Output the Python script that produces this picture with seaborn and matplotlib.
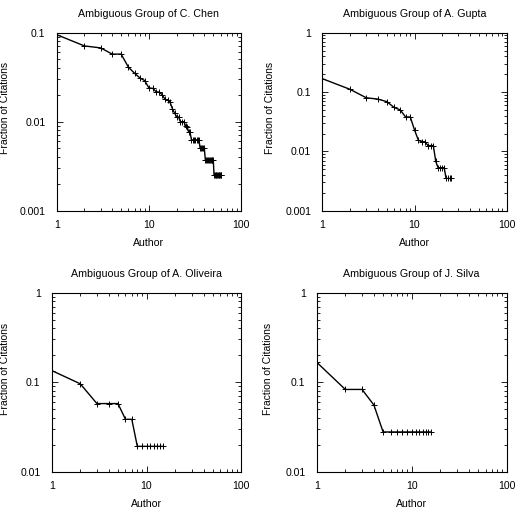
import numpy as np
import pandas as pd
import seaborn as sns
import matplotlib.pyplot as plt
from matplotlib.ticker import LogLocator, FixedLocator, FixedFormatter, NullFormatter

# fraction of citations per author (authors ranked)
chen = [0.095, 0.071, 0.0675, 0.0575, 0.0575, 0.041, 0.035, 0.031, 0.029, 0.024,
        0.0237, 0.0217, 0.0215, 0.020, 0.0178, 0.0175, 0.0165, 0.014, 0.0125, 0.0114,
        0.0113, 0.010, 0.010, 0.010, 0.009, 0.0088, 0.0077, 0.0076, 0.00625, 0.00625,
        0.00625, 0.00625, 0.00625, 0.00625, 0.00625, 0.005, 0.005, 0.005, 0.005, 0.005,
        0.00375, 0.00375, 0.00375, 0.00375, 0.00375, 0.00375, 0.00375, 0.00375, 0.00375, 0.00375,
        0.0025, 0.0025, 0.0025, 0.0025, 0.0025, 0.0025, 0.0025, 0.0025, 0.0025, 0.0025, 0.0025]
gupta = [0.168, 0.111, 0.080, 0.076, 0.069, 0.055, 0.050, 0.038, 0.038, 0.023,
         0.0155, 0.0145, 0.0145, 0.0125, 0.0125, 0.0125, 0.0068, 0.0053, 0.0053, 0.0053,
         0.0053, 0.0035, 0.0035, 0.0035, 0.0035]
oliveira = [0.135, 0.096, 0.0577, 0.0577, 0.0577, 0.0385, 0.0385, 0.0192, 0.0192, 0.0192,
            0.0192, 0.0192, 0.0192, 0.0192, 0.0192]
silva = [0.167, 0.083, 0.083, 0.0556, 0.0278, 0.0278, 0.0278, 0.0278, 0.0278, 0.0278,
         0.0278, 0.0278, 0.0278, 0.0278, 0.0278, 0.0278]

names = ['C. Chen', 'A. Gupta', 'A. Oliveira', 'J. Silva']
series = [chen, gupta, oliveira, silva]
ylims = [(0.001, 0.1), (0.001, 1), (0.01, 1), (0.01, 1)]
yticks = [[0.001, 0.01, 0.1], [0.001, 0.01, 0.1, 1], [0.01, 0.1, 1], [0.01, 0.1, 1]]
ytick_labels = [['0.001', '0.01', '0.1'], ['0.001', '0.01', '0.1', '1'],
                ['0.01', '0.1', '1'], ['0.01', '0.1', '1']]
xticks = [1, 10, 100]
xtick_labels = ['1', '10', '100']

sns.set_theme(style='white')
plt.rcParams['font.family'] = ['Liberation Sans', 'DejaVu Sans']

fig = plt.figure(figsize=(5.19, 5.13), dpi=100)
W, H = 519, 513
# axes boxes in pixels: left, top, right, bottom
boxes = [(56.7, 32.7, 241, 210.7), (322.3, 32.7, 506.7, 210.7),
         (51.7, 292.7, 241.3, 471.7), (316.7, 292.7, 506.7, 471.7)]
ylab_x = [-0.255, -0.255, -0.222, -0.23]

for i in range(4):
    l, t, r, b = boxes[i]
    ax = fig.add_axes([l / W, 1 - b / H, (r - l) / W, (b - t) / H])
    df = pd.DataFrame({'Author': np.arange(1, len(series[i]) + 1), 'Fraction': series[i]})
    sns.lineplot(data=df, x='Author', y='Fraction', ax=ax, color='black', lw=1.0,
                 marker='+', markersize=5, markeredgewidth=0.7, markeredgecolor='black')
    ax.set_xscale('log')
    ax.set_yscale('log')
    ax.set_xlim(1, 100)
    ax.set_ylim(*ylims[i])
    ax.xaxis.set_major_locator(FixedLocator(xticks))
    ax.xaxis.set_major_formatter(FixedFormatter(xtick_labels))
    ax.yaxis.set_major_locator(FixedLocator(yticks[i]))
    ax.yaxis.set_major_formatter(FixedFormatter(ytick_labels[i]))
    for axis in (ax.xaxis, ax.yaxis):
        axis.set_minor_locator(LogLocator(base=10, subs=np.arange(2, 10), numticks=20))
        axis.set_minor_formatter(NullFormatter())
    ax.tick_params(which='both', direction='in', top=True, right=True, bottom=True, left=True,
                   color='black', width=0.6)
    ax.tick_params(which='major', length=4, labelsize=7.6, labelcolor='black')
    ax.tick_params(axis='x', which='major', pad=7)
    ax.tick_params(axis='y', which='major', pad=8)
    ax.tick_params(which='minor', length=2)
    for s in ax.spines.values():
        s.set_color('black')
        s.set_linewidth(0.8)
    ax.set_title('Ambiguous Group of ' + names[i], fontsize=7.7, pad=11, color='black')
    ax.set_xlabel('Author', fontsize=7.6, labelpad=5.5, color='black')
    ax.set_ylabel('Fraction of Citations', fontsize=7.5, color='black')
    ax.yaxis.set_label_coords(ylab_x[i], 0.575)

fig.savefig('out.png', dpi=100)
